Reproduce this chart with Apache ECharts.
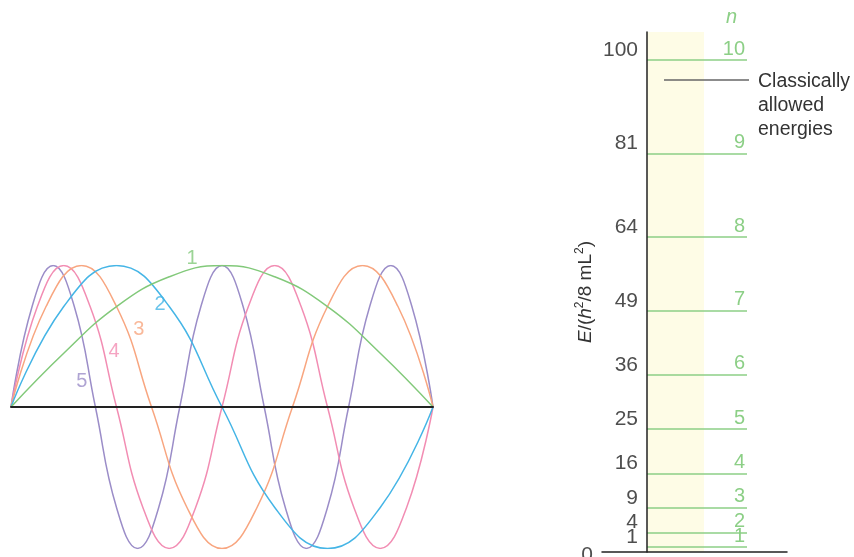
<!DOCTYPE html>
<html><head><meta charset="utf-8">
<script src="https://cdn.jsdelivr.net/npm/echarts@6/dist/echarts.min.js"></script>
<style>html,body{margin:0;padding:0;background:#fff}#c{width:854px;height:557px}</style>
</head><body><div id="c"></div>
<script>
// ---- Data ----
const psi1 = [[0,0],[0.125,0.38],[0.25,0.71],[0.375,0.92],[0.5,1],[0.625,0.92],[0.75,0.71],[0.875,0.38],[1,0]];
const psi2 = [[0,0],[0.125,0.71],[0.25,1],[0.375,0.71],[0.5,0],[0.625,-0.71],[0.75,-1],[0.875,-0.71],[1,0]];
const psi3 = [[0,0],[0.083,0.71],[0.167,1],[0.25,0.71],[0.333,0],[0.417,-0.71],[0.5,-1],[0.583,-0.71],[0.667,0],[0.75,0.71],[0.833,1],[0.917,0.71],[1,0]];
const psi4 = [[0,0],[0.0625,0.71],[0.125,1],[0.1875,0.71],[0.25,0],[0.3125,-0.71],[0.375,-1],[0.4375,-0.71],[0.5,0],[0.5625,0.71],[0.625,1],[0.6875,0.71],[0.75,0],[0.8125,-0.71],[0.875,-1],[0.9375,-0.71],[1,0]];
const psi5 = [[0,0],[0.05,0.71],[0.1,1],[0.15,0.71],[0.2,0],[0.25,-0.71],[0.3,-1],[0.35,-0.71],[0.4,0],[0.45,0.71],[0.5,1],[0.55,0.71],[0.6,0],[0.65,-0.71],[0.7,-1],[0.75,-0.71],[0.8,0],[0.85,0.71],[0.9,1],[0.95,0.71],[1,0]];
const waveNames = ['1','2','3','4','5'];
const waveLabelPos = [[0.429,1.053],[0.353,0.721],[0.303,0.551],[0.244,0.389],[0.168,0.177]];

const levelN = [1,2,3,4,5,6,7,8,9,10];
const levelE = [1,4,9,16,25,36,49,64,81,100];
const tickVals = [0,1,4,9,16,25,36,49,64,81,100];
const classicalE = 95.9;
const annotationText = 'Classically\nallowed\nenergies';
const axisTitle = '{i|E}/({i|h}{s|2}/8 mL{s|2})';

// ---- Styles ----
const FONT = "'Liberation Sans', Arial, sans-serif";
const waveColors = ['#82c97a','#45b5e6','#f8a680','#f28db3','#9b8dc8'];
const GREEN = '#8ccf86';
const waves = [psi1, psi2, psi3, psi4, psi5];

const series = [];
waves.forEach((d, i) => {
  series.push({
    type: 'line', xAxisIndex: 0, yAxisIndex: 0, data: d, smooth: 0.45,
    symbol: 'none', lineStyle: {color: waveColors[i], width: 1.5}, z: 3 + (4 - i)
  });
});
series.push({
  type: 'scatter', xAxisIndex: 0, yAxisIndex: 0, symbolSize: 0, silent: true, clip: false,
  data: waveNames.map((t, i) => ({
    value: waveLabelPos[i],
    label: {show: true, position: 'inside', formatter: t, color: waveColors[i], fontSize: 20, fontFamily: FONT}
  }))
});
// right panel: band + levels
series.push({
  type: 'scatter', xAxisIndex: 1, yAxisIndex: 1, data: [], silent: true, z: 1,
  markArea: {silent: true, itemStyle: {color: '#fefce6'},
    data: [[{coord: [0, 0]}, {coord: [0.57, 105.7]}]]},
  markLine: {
    silent: true, symbol: ['none', 'none'], animation: false,
    lineStyle: {color: GREEN, width: 1.5, type: 'solid'},
    label: {show: true, position: 'insideEndTop', color: GREEN, fontSize: 20, fontFamily: FONT, distance: [2, 1]},
    data: levelE.map((e, i) => [
      {coord: [0, e], label: {formatter: String(levelN[i])}},
      {coord: [1, e]}
    ]).concat([[
      {coord: [0.17, classicalE], lineStyle: {color: '#666', width: 1.5}, label: {show: false}},
      {coord: [1.02, classicalE]}
    ]])
  }
});
// tick labels
series.push({
  type: 'scatter', xAxisIndex: 1, yAxisIndex: 1, symbolSize: 0, silent: true, clip: false,
  data: tickVals.map(v => ({
    value: [v === 0 ? -0.45 : 0, v],
    label: {show: true, position: 'left', distance: 9, offset: [0, v === 0 ? 3 : -10],
      formatter: String(v), color: '#222', fontSize: 21, fontFamily: FONT}
  }))
});

const option = {
  animation: false,
  grid: [
    {left: 11, top: 265.5, width: 422, height: 283},
    {left: 602, top: 32, width: 185, height: 520}
  ],
  xAxis: [
    {type: 'value', gridIndex: 0, min: 0, max: 1, z: 10, axisLine: {onZero: true, lineStyle: {color: '#222', width: 2}},
     axisTick: {show: false}, axisLabel: {show: false}, splitLine: {show: false}},
    {type: 'value', gridIndex: 1, min: -0.45, max: 1.4, z: 10, axisLine: {lineStyle: {color: '#222', width: 1.5}},
     axisTick: {show: false}, axisLabel: {show: false}, splitLine: {show: false}}
  ],
  yAxis: [
    {type: 'value', gridIndex: 0, min: -1, max: 1, show: false},
    {type: 'value', gridIndex: 1, min: 0, max: 105.7, z: 10,
     axisLine: {show: true, onZero: true, lineStyle: {color: '#222', width: 1.5}},
     axisTick: {show: false}, axisLabel: {show: false}, splitLine: {show: false},
     name: axisTitle, nameLocation: 'middle', nameGap: 4, nameRotate: 90,
     nameTextStyle: {color: '#333', fontSize: 19, fontFamily: FONT,
       rich: {
         i: {fontStyle: 'italic', fontSize: 19, color: '#333', fontFamily: FONT},
         s: {fontSize: 12, color: '#333', fontFamily: FONT, padding: [0, 0, 12, 0]}
       }}}
  ],
  graphic: [
    {type: 'text', left: 758, top: 70, style: {text: annotationText, fill: '#333', fontSize: 19.5, fontFamily: FONT, lineHeight: 24}},
    {type: 'text', left: 726, top: 7, style: {text: 'n', fill: GREEN, fontSize: 20, fontStyle: 'italic', fontFamily: FONT}}
  ],
  series: series
};
echarts.init(document.getElementById('c'), null, {renderer: 'canvas'}).setOption(option);
</script></body></html>
